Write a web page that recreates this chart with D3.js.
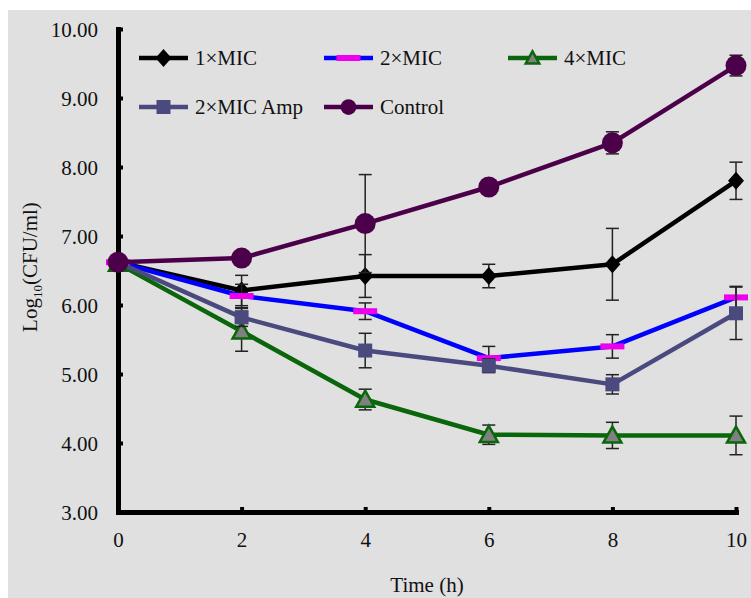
<!DOCTYPE html>
<html lang="en">
<head>
<meta charset="utf-8">
<script src="https://d3js.org/d3.v7.min.js"></script>
<style>
  body {margin: 0; background: #fff;}
  text {font-family: "Liberation Serif", "Times New Roman", serif; fill: #111;}
</style>
</head>
<body>
<svg id="chart" width="751" height="598"></svg>
<script>
// data
const times = [0, 2, 4, 6, 8, 10];
const seriesNames = ["1×MIC", "2×MIC", "4×MIC", "2×MIC Amp", "Control"];
const mic1 = [6.62, 6.21, 6.42, 6.42, 6.59, 7.80];
const mic1Err = [0.05, 0.22, 0.31, 0.17, 0.52, 0.27];
const mic2 = [6.62, 6.13, 5.91, 5.23, 5.40, 6.11];
const mic2Err = [0.05, 0.17, 0.12, 0.17, 0.17, 0.16];
const mic4 = [6.60, 5.62, 4.63, 4.12, 4.11, 4.11];
const mic4Err = [0.05, 0.29, 0.15, 0.14, 0.19, 0.28];
const amp = [6.62, 5.82, 5.34, 5.12, 4.85, 5.88];
const ampErr = [0.05, 0.13, 0.25, 0.10, 0.14, 0.38];
const ctrl = [6.62, 6.68, 7.18, 7.71, 8.35, 9.47];
const ctrlErr = [0.05, 0.10, 0.71, 0.10, 0.16, 0.15];
const yTicks = [3, 4, 5, 6, 7, 8, 9, 10];

const series = [
  {name: seriesNames[0], vals: mic1, err: mic1Err, line: "#000000", marker: "diamond", fill: "#000000", stroke: "none"},
  {name: seriesNames[1], vals: mic2, err: mic2Err, line: "#0000ff", marker: "dash", fill: "#ee00ee", stroke: "none"},
  {name: seriesNames[2], vals: mic4, err: mic4Err, line: "#0a660a", marker: "triangle", fill: "#808080", stroke: "#0a660a"},
  {name: seriesNames[3], vals: amp, err: ampErr, line: "#4a4a7e", marker: "square", fill: "#4a4a7e", stroke: "none"},
  {name: seriesNames[4], vals: ctrl, err: ctrlErr, line: "#4b0049", marker: "circle", fill: "#4b0049", stroke: "none"}
];

const svg = d3.select("#chart");

// grey plot area background
svg.append("rect")
  .attr("x", 8).attr("y", 10)
  .attr("width", 743).attr("height", 588)
  .attr("fill", "#e0e0e0");

const x = d3.scaleLinear().domain([0, 10]).range([118, 736]);
const y = d3.scaleLinear().domain([3, 10]).range([512, 29]);

// axes
const xAxis = svg.append("g")
  .attr("transform", "translate(0," + y(3) + ")")
  .call(d3.axisBottom(x).tickValues(times).tickSize(-5).tickSizeOuter(0).tickPadding(20));
const yAxis = svg.append("g")
  .attr("transform", "translate(" + x(0) + ",0)")
  .call(d3.axisLeft(y).tickValues(yTicks).tickFormat(d3.format(".2f")).tickSize(-5).tickSizeOuter(0).tickPadding(20));

[xAxis, yAxis].forEach(ax => {
  ax.select(".domain").attr("stroke", "#000").attr("stroke-width", 5).attr("stroke-linecap", "square");
  ax.selectAll(".tick line").attr("stroke", "#000").attr("stroke-width", 4);
  ax.selectAll(".tick text").style("font-size", "21px").attr("fill", "#111");
});
yAxis.selectAll(".tick text").attr("dy", "0.35em");
// no inner tick at the origin
xAxis.selectAll(".tick line").filter(d => d === 0).remove();
yAxis.selectAll(".tick line").filter(d => d === 3).remove();

// axis titles
svg.append("text")
  .attr("x", x(5)).attr("y", 592)
  .attr("text-anchor", "middle")
  .style("font-size", "21px")
  .text("Time (h)");

const yt = svg.append("text")
  .attr("transform", "translate(37," + y(6.55) + ") rotate(-90)")
  .attr("text-anchor", "middle")
  .style("font-size", "21px");
yt.append("tspan").text("Log");
yt.append("tspan").attr("dy", 5).style("font-size", "13px").text("10");
yt.append("tspan").attr("dy", -5).text("(CFU/ml)");

// marker drawer
function drawMarker(g, type, fill, stroke, s) {
  if (type === "diamond") {
    g.append("path").attr("d", "M0,-9L8,0L0,9L-8,0Z").attr("fill", fill);
  } else if (type === "dash") {
    g.append("rect").attr("x", -12).attr("y", -3).attr("width", 24).attr("height", 6).attr("fill", fill);
  } else if (type === "triangle") {
    const w = 9 * s, h = 16 * s;
    g.append("path").attr("d", "M0," + (-h * 0.55) + "L" + w + "," + (h * 0.45) + "L" + (-w) + "," + (h * 0.45) + "Z")
      .attr("fill", fill).attr("stroke", stroke).attr("stroke-width", 2.5).attr("stroke-linejoin", "miter");
  } else if (type === "square") {
    g.append("rect").attr("x", -7).attr("y", -7).attr("width", 14).attr("height", 14).attr("fill", fill);
  } else if (type === "circle") {
    g.append("circle").attr("r", 10.5 * s).attr("fill", fill);
  }
}

const line = d3.line().x(d => x(d[0])).y(d => y(d[1]));

series.forEach(s => {
  const pts = times.map((t, i) => [t, s.vals[i], s.err[i]]);
  const g = svg.append("g");
  // error bars
  const eb = g.selectAll(".eb").data(pts).join("g");
  eb.append("line")
    .attr("x1", d => x(d[0])).attr("x2", d => x(d[0]))
    .attr("y1", d => y(d[1] + d[2])).attr("y2", d => y(d[1] - d[2]))
    .attr("stroke", "#222").attr("stroke-width", 1.5);
  [1, -1].forEach(sign => {
    eb.append("line")
      .attr("x1", d => x(d[0]) - 6.5).attr("x2", d => x(d[0]) + 6.5)
      .attr("y1", d => y(d[1] + sign * d[2])).attr("y2", d => y(d[1] + sign * d[2]))
      .attr("stroke", "#222").attr("stroke-width", 1.5);
  });
  // line
  g.append("path").datum(pts)
    .attr("d", line)
    .attr("fill", "none")
    .attr("stroke", s.line)
    .attr("stroke-width", 4.5)
    .attr("stroke-linejoin", "round");
  // markers
  pts.forEach(d => {
    const m = g.append("g").attr("transform", "translate(" + x(d[0]) + "," + y(d[1]) + ")");
    drawMarker(m, s.marker, s.fill, s.stroke, 1);
  });
});

// legend
const legendPos = [[139, 58], [324, 58], [508, 58], [139, 107], [324, 107]];
series.forEach((s, i) => {
  const [lx, ly] = legendPos[i];
  const g = svg.append("g").attr("transform", "translate(" + lx + "," + ly + ")");
  g.append("line").attr("x1", 0).attr("x2", 49).attr("y1", 0).attr("y2", 0)
    .attr("stroke", s.line).attr("stroke-width", 4.5);
  const m = g.append("g").attr("transform", "translate(24.5,0)");
  drawMarker(m, s.marker, s.fill, s.stroke, 0.75);
  g.append("text").attr("x", 56).attr("y", 0).attr("dy", "0.35em")
    .style("font-size", "21px").text(s.name);
});
</script>
</body>
</html>
